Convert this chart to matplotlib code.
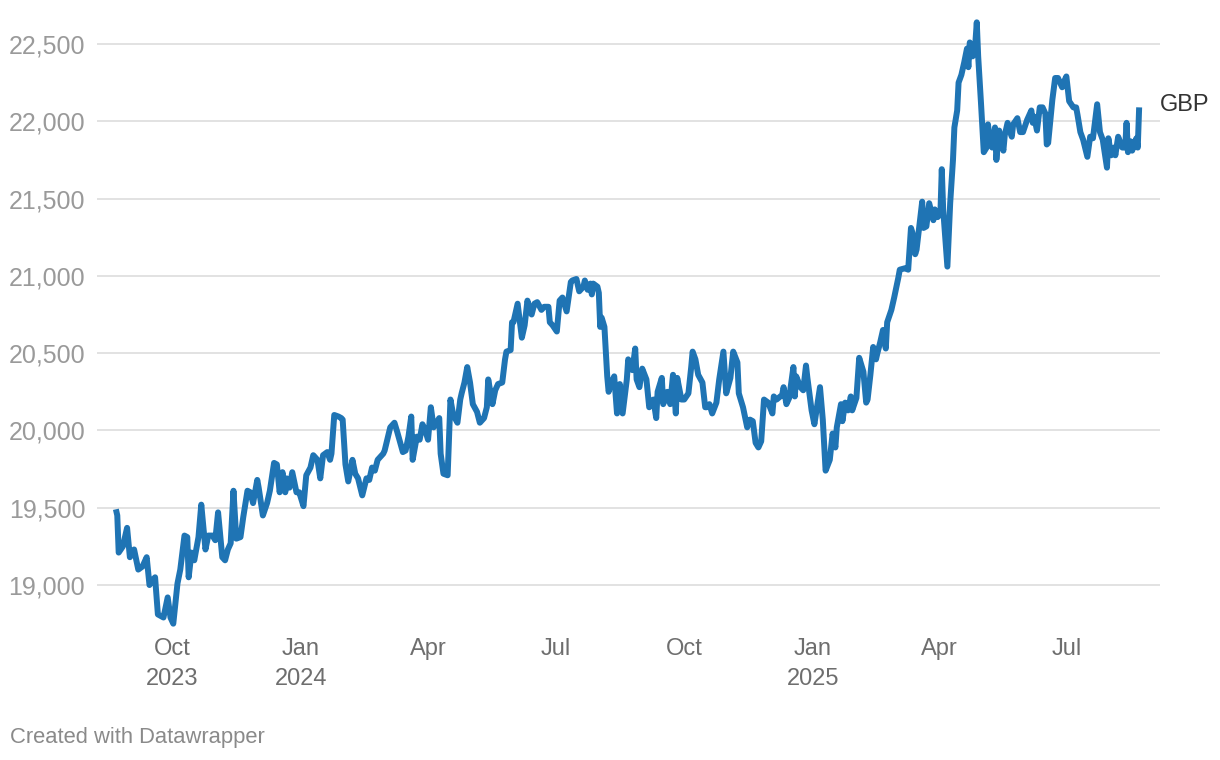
import pandas as pd
import matplotlib
matplotlib.use("Agg")
import matplotlib.pyplot as plt
import matplotlib.dates as mdates

# GBP price series
dates = [
    "2023-08-22", "2023-08-23", "2023-08-24", "2023-08-27", "2023-08-30", "2023-09-01", "2023-09-04",
    "2023-09-07", "2023-09-10", "2023-09-13", "2023-09-15", "2023-09-17", "2023-09-19", "2023-09-21",
    "2023-09-25", "2023-09-28", "2023-09-30", "2023-10-02", "2023-10-05", "2023-10-07", "2023-10-10",
    "2023-10-12", "2023-10-13", "2023-10-15", "2023-10-17", "2023-10-20", "2023-10-22", "2023-10-25",
    "2023-10-27", "2023-10-30", "2023-11-01", "2023-11-03", "2023-11-06", "2023-11-08", "2023-11-10",
    "2023-11-12", "2023-11-14", "2023-11-16", "2023-11-19", "2023-11-21", "2023-11-24", "2023-11-26",
    "2023-11-28", "2023-12-01", "2023-12-02", "2023-12-05", "2023-12-08", "2023-12-10", "2023-12-13",
    "2023-12-15", "2023-12-17", "2023-12-19", "2023-12-21", "2023-12-22", "2023-12-24", "2023-12-26",
    "2023-12-29", "2023-12-31", "2024-01-03", "2024-01-05", "2024-01-08", "2024-01-10", "2024-01-13",
    "2024-01-15", "2024-01-17", "2024-01-20", "2024-01-22", "2024-01-23", "2024-01-25", "2024-01-28",
    "2024-01-30", "2024-01-31", "2024-02-02", "2024-02-04", "2024-02-07", "2024-02-09", "2024-02-11",
    "2024-02-14", "2024-02-17", "2024-02-19", "2024-02-21", "2024-02-23", "2024-02-25", "2024-02-29",
    "2024-03-01", "2024-03-05", "2024-03-08", "2024-03-10", "2024-03-14", "2024-03-16", "2024-03-18",
    "2024-03-20", "2024-03-21", "2024-03-24", "2024-03-26", "2024-03-28", "2024-03-30", "2024-04-01",
    "2024-04-03", "2024-04-05", "2024-04-07", "2024-04-09", "2024-04-10", "2024-04-12", "2024-04-15",
    "2024-04-17", "2024-04-19", "2024-04-22", "2024-04-24", "2024-04-25", "2024-04-27", "2024-04-29",
    "2024-05-01", "2024-05-03", "2024-05-06", "2024-05-08", "2024-05-11", "2024-05-13", "2024-05-14",
    "2024-05-17", "2024-05-19", "2024-05-21", "2024-05-24", "2024-05-26", "2024-05-27", "2024-05-30",
    "2024-05-31", "2024-06-01", "2024-06-03", "2024-06-04", "2024-06-07", "2024-06-09", "2024-06-11",
    "2024-06-14", "2024-06-16", "2024-06-18", "2024-06-21", "2024-06-23", "2024-06-26", "2024-06-27",
    "2024-06-29", "2024-07-02", "2024-07-04", "2024-07-06", "2024-07-09", "2024-07-12", "2024-07-13",
    "2024-07-16", "2024-07-18", "2024-07-21", "2024-07-22", "2024-07-24", "2024-07-26", "2024-07-27",
    "2024-07-28", "2024-07-31", "2024-08-01", "2024-08-02", "2024-08-03", "2024-08-05", "2024-08-07",
    "2024-08-08", "2024-08-10", "2024-08-12", "2024-08-14", "2024-08-16", "2024-08-18", "2024-08-21",
    "2024-08-22", "2024-08-25", "2024-08-27", "2024-08-28", "2024-08-30", "2024-09-01", "2024-09-04",
    "2024-09-06", "2024-09-09", "2024-09-11", "2024-09-12", "2024-09-15", "2024-09-16", "2024-09-19",
    "2024-09-21", "2024-09-23", "2024-09-25", "2024-09-26", "2024-09-29", "2024-10-01", "2024-10-04",
    "2024-10-06", "2024-10-07", "2024-10-09", "2024-10-11", "2024-10-14", "2024-10-16", "2024-10-17",
    "2024-10-19", "2024-10-21", "2024-10-24", "2024-10-26", "2024-10-29", "2024-10-31", "2024-11-03",
    "2024-11-05", "2024-11-08", "2024-11-09", "2024-11-12", "2024-11-15", "2024-11-17", "2024-11-19",
    "2024-11-21", "2024-11-23", "2024-11-25", "2024-11-27", "2024-11-30", "2024-12-03", "2024-12-04",
    "2024-12-06", "2024-12-10", "2024-12-11", "2024-12-13", "2024-12-15", "2024-12-18", "2024-12-19",
    "2024-12-20", "2024-12-23", "2024-12-25", "2024-12-27", "2024-12-28", "2024-12-31", "2025-01-02",
    "2025-01-06", "2025-01-08", "2025-01-10", "2025-01-13", "2025-01-15", "2025-01-17", "2025-01-18",
    "2025-01-21", "2025-01-22", "2025-01-24", "2025-01-26", "2025-01-28", "2025-01-29", "2025-02-01",
    "2025-02-03", "2025-02-06", "2025-02-08", "2025-02-09", "2025-02-11", "2025-02-13", "2025-02-15",
    "2025-02-16", "2025-02-18", "2025-02-20", "2025-02-22", "2025-02-23", "2025-02-26", "2025-02-28",
    "2025-03-03", "2025-03-04", "2025-03-08", "2025-03-10", "2025-03-12", "2025-03-13", "2025-03-15",
    "2025-03-16", "2025-03-20", "2025-03-21", "2025-03-23", "2025-03-25", "2025-03-28", "2025-03-29",
    "2025-03-31", "2025-04-02", "2025-04-03", "2025-04-04", "2025-04-07", "2025-04-09", "2025-04-11",
    "2025-04-12", "2025-04-14", "2025-04-15", "2025-04-17", "2025-04-19", "2025-04-21", "2025-04-22",
    "2025-04-23", "2025-04-24", "2025-04-25", "2025-04-27", "2025-04-28", "2025-04-29", "2025-05-01",
    "2025-05-03", "2025-05-05", "2025-05-06", "2025-05-07", "2025-05-09", "2025-05-11", "2025-05-12",
    "2025-05-14", "2025-05-17", "2025-05-18", "2025-05-20", "2025-05-23", "2025-05-24", "2025-05-27",
    "2025-05-29", "2025-05-31", "2025-06-03", "2025-06-06", "2025-06-07", "2025-06-08", "2025-06-10",
    "2025-06-12", "2025-06-14", "2025-06-16", "2025-06-17", "2025-06-18", "2025-06-20", "2025-06-21",
    "2025-06-23", "2025-06-25", "2025-06-28", "2025-06-29", "2025-07-01", "2025-07-03", "2025-07-06",
    "2025-07-08", "2025-07-09", "2025-07-11", "2025-07-13", "2025-07-16", "2025-07-18", "2025-07-20",
    "2025-07-23", "2025-07-25", "2025-07-27", "2025-07-30", "2025-07-31", "2025-08-02", "2025-08-04",
    "2025-08-05", "2025-08-07", "2025-08-10", "2025-08-12", "2025-08-13", "2025-08-14", "2025-08-16",
    "2025-08-17", "2025-08-20", "2025-08-21", "2025-08-22",
]
values = [
    19490, 19450, 19210, 19250, 19370, 19180, 19230,
    19100, 19120, 19180, 19000, 19030, 19050, 18810,
    18790, 18920, 18790, 18750, 19010, 19100, 19320,
    19310, 19050, 19210, 19160, 19310, 19520, 19230,
    19320, 19320, 19290, 19470, 19180, 19160, 19230,
    19270, 19610, 19300, 19310, 19440, 19610, 19600,
    19530, 19680, 19630, 19450, 19530, 19610, 19790,
    19780, 19600, 19730, 19600, 19690, 19630, 19730,
    19600, 19600, 19510, 19710, 19760, 19840, 19810,
    19690, 19840, 19860, 19810, 19850, 20100, 20090,
    20080, 20070, 19780, 19670, 19810, 19720, 19690,
    19580, 19690, 19680, 19760, 19740, 19810, 19850,
    19870, 20020, 20050, 19990, 19860, 19870, 19960,
    20090, 19810, 19960, 19940, 20040, 20000, 19940,
    20150, 20020, 20050, 20080, 19850, 19720, 19710,
    20200, 20100, 20050, 20200, 20240, 20310, 20410,
    20310, 20170, 20120, 20050, 20080, 20150, 20330,
    20170, 20260, 20300, 20310, 20460, 20510, 20520,
    20700, 20700, 20780, 20820, 20600, 20680, 20840,
    20750, 20820, 20830, 20780, 20800, 20800, 20700,
    20680, 20640, 20840, 20860, 20770, 20960, 20970,
    20980, 20900, 20930, 20970, 20910, 20950, 20880,
    20950, 20930, 20890, 20670, 20730, 20670, 20350,
    20250, 20310, 20350, 20110, 20300, 20110, 20330,
    20460, 20390, 20530, 20330, 20280, 20400, 20330,
    20150, 20200, 20080, 20250, 20340, 20170, 20250,
    20170, 20360, 20110, 20340, 20200, 20200, 20240,
    20410, 20510, 20460, 20360, 20310, 20150, 20150,
    20170, 20110, 20180, 20330, 20510, 20240, 20340,
    20510, 20440, 20240, 20150, 20020, 20070, 20060,
    19920, 19890, 19930, 20200, 20180, 20110, 20220,
    20200, 20230, 20280, 20170, 20210, 20410, 20220,
    20350, 20280, 20260, 20420, 20340, 20130, 20040,
    20280, 20070, 19740, 19810, 19980, 19890, 20020,
    20170, 20060, 20180, 20130, 20220, 20130, 20210,
    20470, 20380, 20180, 20200, 20360, 20540, 20460,
    20500, 20570, 20650, 20530, 20700, 20780, 20860,
    20990, 21040, 21050, 21040, 21310, 21280, 21140,
    21170, 21480, 21310, 21320, 21470, 21360, 21430,
    21380, 21400, 21690, 21430, 21060, 21470, 21750,
    21960, 22070, 22250, 22300, 22380, 22470, 22350,
    22510, 22480, 22420, 22510, 22640, 22420, 22120,
    21800, 21830, 21980, 21900, 21830, 21960, 21750,
    21940, 21810, 21910, 21990, 21900, 21980, 22020,
    21930, 21930, 22010, 22070, 21990, 22030, 21940,
    22090, 22090, 22050, 21850, 21860, 22050, 22140,
    22280, 22280, 22220, 22250, 22290, 22130, 22090,
    22090, 22040, 21930, 21880, 21770, 21900, 21890,
    22110, 21930, 21880, 21700, 21890, 21780, 21830,
    21780, 21900, 21830, 21830, 21990, 21800, 21870,
    21810, 21890, 21830, 22090,
]
series_name = "GBP"

y_ticks = [19000, 19500, 20000, 20500, 21000, 21500, 22000, 22500]
x_tick_dates = ["2023-10-01", "2024-01-01", "2024-04-01", "2024-07-01",
                "2024-10-01", "2025-01-01", "2025-04-01", "2025-07-01"]
x_tick_labels = ["Oct\n2023", "Jan\n2024", "Apr", "Jul", "Oct", "Jan\n2025", "Apr", "Jul"]

df = pd.DataFrame({"date": pd.to_datetime(dates), "value": values})

plt.rcParams['font.family'] = ['Liberation Sans', 'DejaVu Sans']

fig = plt.figure(figsize=(12.2, 7.6), dpi=100)
ax = fig.add_axes([0.0795, 0.1692, 0.8713, 0.8136])

ax.plot(df["date"], df["value"], color="#1f74b4", linewidth=4.3,
        solid_joinstyle="round", solid_capstyle="butt", zorder=3)

ax.set_ylim(18700, 22700)
ax.set_xlim(pd.Timestamp("2023-08-08 12:00"), pd.Timestamp("2025-09-05 21:00"))

ax.set_yticks(y_ticks)
ax.set_yticklabels([f"{v:,}" for v in y_ticks])
ax.set_xticks(pd.to_datetime(x_tick_dates))
ax.set_xticklabels(x_tick_labels, linespacing=1.45)

ax.grid(axis="y", color="#e2e2e2", linewidth=1.4, zorder=0)
ax.grid(axis="x", visible=False)
for s in ax.spines.values():
    s.set_visible(False)

ax.tick_params(axis="y", length=0, pad=8.5, labelsize=18, labelcolor="#9a9a9a")
ax.tick_params(axis="x", length=0, pad=5, labelsize=17, labelcolor="#6e6e6e")

ax.annotate(series_name, xy=(df["date"].iloc[-1], df["value"].iloc[-1]),
            xytext=(15, 2), textcoords="offset points", fontsize=17,
            color="#333333", va="center", ha="left", annotation_clip=False)

fig.text(10 / 1220, 1 - 737 / 760, "Created with Datawrapper", fontsize=15.8,
         color="#8a8a8a", va="center", ha="left")

fig.savefig("out.png", dpi=100)
